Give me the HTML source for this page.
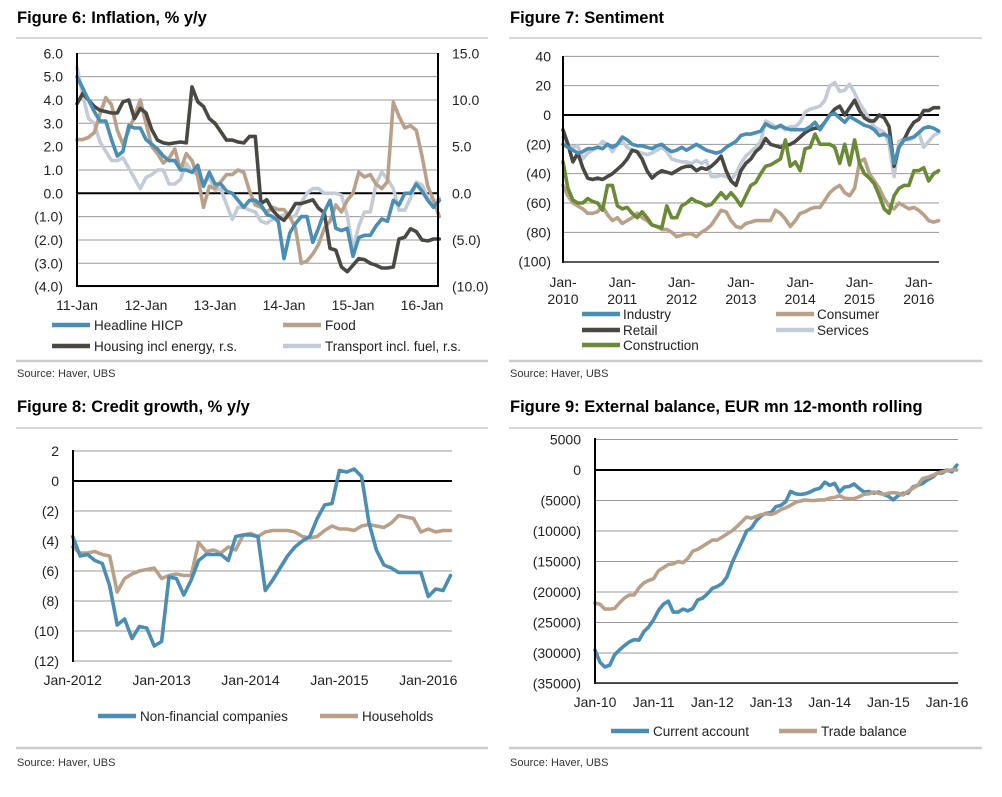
<!DOCTYPE html>
<html><head><meta charset="utf-8"><style>
html,body{margin:0;padding:0;background:#fff;}
svg{display:block;font-family:"Liberation Sans",sans-serif;}
.t{font-weight:bold;font-size:16.5px;fill:#000;}
.tk{font-size:14px;fill:#222;}
.lg{font-size:13.5px;fill:#222;}
.src{font-size:11px;fill:#333;}
</style></head><body>
<svg id="root" width="1002" height="797" viewBox="0 0 1002 797"></svg>
<script>
// ---------- Figure 6 data (monthly from Jan-2011) ----------
const f6Headline=[5.0,4.5,4.0,3.5,3.1,3.1,2.3,1.6,1.8,2.9,2.8,2.8, 2.3,2.1,1.9,1.6,1.4,1.4,1.0,1.0,0.9,1.2,0.3,0.9, 0.4,0.4,0.1,0.0,-0.3,-0.6,-0.3,-0.3,-0.5,-0.9,-1.0,-1.2, -2.8,-1.7,-1.3,-1.0,-1.0,-2.1,-1.5,-0.8,-0.3,-1.5,-1.6,-1.5, -2.7,-1.9,-1.8,-1.8,-1.4,-1.1,-1.2,-0.3,-0.5,0.0,0.0,0.4, 0.1,-0.3,-0.6,-0.3];
const f6Food=[2.3,2.3,2.4,2.6,3.4,4.1,3.8,2.7,2.1,2.7,3.3,4.0, 3.0,2.0,1.7,1.3,1.5,1.9,1.0,1.7,1.4,0.7,-0.6,0.3, 0.2,0.5,0.8,0.8,1.0,0.9,0.1,-0.5,-0.6,-0.8,-0.6,-0.7, -0.7,-1.0,-1.5,-3.0,-2.9,-2.6,-2.2,-1.5,-1.2,-0.5,-0.8,-0.3, 0.0,0.9,0.7,0.8,0.4,0.2,0.5,3.9,3.3,2.8,2.9,2.7, 1.6,0.3,-0.3,-1.0];
const f6Housing=[9.6,10.7,10.0,9.3,8.9,8.75,8.6,8.6,9.8,10.0,8.0,9.1, 8.6,6.8,5.7,5.4,5.3,5.4,5.5,5.4,11.4,9.8,9.3,8.0, 7.5,6.6,5.7,5.7,5.5,5.4,6.1,6.1,-1.1,-0.7,-1.8,-2.5, -2.9,-2.1,-1.1,-1.1,-0.9,-0.7,-1.6,-2.1,-5.9,-6.1,-7.9,-8.4, -7.7,-7.0,-7.1,-7.5,-7.7,-8.0,-8.0,-7.9,-4.9,-4.7,-3.8,-4.1, -5.0,-5.1,-4.9,-4.9];
const f6Transport=[13.5,10.5,8.0,7.5,5.5,4.5,3.5,3.5,3.8,2.7,1.6,0.5, 1.7,2.0,2.5,2.5,1.0,1.0,1.5,3.2,2.3,2.0,1.2,1.7, 0.3,0.5,-1.2,-2.8,-1.5,-1.5,-1.8,-2.0,-3.0,-3.2,-2.8,-2.5, -2.3,-2.6,-2.4,-1.0,0.0,0.5,0.5,0.0,0.0,0.0,-0.2,-2.4, -6.0,-3.5,-2.0,-2.0,1.0,2.3,1.5,0.5,-1.8,-1.8,-0.5,1.2, 0.9,-0.5,-1.0,-0.5];
const f6LeftTicks=[6,5,4,3,2,1,0,-1,-2,-3,-4];
const f6RightTicks=[15,10,5,0,-5,-10];
const f6XLabels=["11-Jan","12-Jan","13-Jan","14-Jan","15-Jan","16-Jan"];

// ---------- Figure 7 data (monthly from Jan-2010) ----------
const f7Industry=[-20,-22,-24,-26,-25,-23,-23,-22,-23,-20,-22,-20, -15,-17,-20,-21,-21,-22,-23,-21,-20,-23,-25,-24, -22,-24,-22,-20,-22,-24,-25,-26,-25,-22,-20,-18, -14,-13,-13,-12,-11,-6,-8,-9,-7,-9,-10,-10, -10,-10,-8,-5,-10,-5,0,1,-2,-5,-1,-3, -5,-7,-8,-10,-14,-13,-15,-33,-22,-17,-16,-15, -12,-9,-8,-9,-11];
const f7Consumer=[-48,-55,-60,-62,-64,-67,-67,-66,-62,-68,-72,-70, -74,-72,-70,-67,-70,-72,-75,-76,-78,-78,-80,-83, -82,-81,-81,-83,-80,-78,-75,-70,-65,-66,-72,-76, -77,-74,-73,-72,-72,-72,-72,-65,-67,-71,-76,-72, -67,-66,-64,-63,-63,-58,-53,-50,-48,-53,-55,-50, -32,-30,-40,-45,-50,-57,-62,-64,-60,-62,-64,-63, -65,-68,-72,-73,-72];
const f7Retail=[-10,-20,-32,-26,-36,-43,-44,-43,-44,-42,-40,-37, -34,-30,-24,-25,-30,-38,-43,-40,-38,-39,-40,-38, -36,-35,-35,-38,-36,-37,-35,-32,-28,-38,-45,-48, -38,-33,-30,-25,-22,-16,-20,-21,-22,-21,-20,-18, -15,-12,-10,-9,-9,-5,0,4,6,0,5,10, 3,-2,-4,-4,0,-2,-8,-35,-22,-17,-10,-5, -3,3,3,5,5];
const f7Services=[-15,-20,-22,-21,-30,-26,-24,-22,-18,-20,-25,-20, -18,-22,-24,-25,-26,-27,-26,-24,-22,-25,-30,-31, -32,-32,-33,-31,-33,-31,-42,-42,-41,-42,-44,-40, -33,-28,-25,-22,-18,-4,-6,-8,-8,-10,-8,-8, -5,2,4,5,6,10,20,22,16,17,21,15, 8,3,-3,-8,-10,-12,-20,-42,-18,-16,-17,-15, -12,-22,-18,-14,-12];
const f7Construction=[-32,-50,-58,-60,-60,-57,-59,-60,-65,-48,-48,-62, -64,-63,-67,-70,-66,-70,-75,-76,-77,-62,-70,-70, -62,-60,-57,-59,-60,-62,-61,-57,-53,-57,-53,-57, -62,-55,-48,-46,-40,-35,-34,-32,-30,-17,-35,-32, -38,-23,-22,-13,-20,-20,-20,-22,-33,-20,-34,-17, -33,-40,-43,-47,-55,-64,-67,-55,-50,-48,-48,-38, -38,-36,-45,-40,-38];
const f7Ticks=[40,20,0,-20,-40,-60,-80,-100];
const f7XLabels=["2010","2011","2012","2013","2014","2015","2016"];

// ---------- Figure 8 data (monthly from Jan-2012) ----------
const f8Nfc=[-3.7,-5.0,-4.9,-5.3,-5.5,-7.0,-9.6,-9.2,-10.5,-9.7,-9.8,-11.0, -10.7,-6.4,-6.5,-7.6,-6.6,-5.3,-4.9,-4.9,-4.9,-5.3,-3.7,-3.6, -3.6,-3.7,-7.3,-6.6,-5.8,-5.0,-4.4,-4.0,-3.7,-2.5,-1.6,-1.5, 0.7,0.6,0.8,0.3,-2.8,-4.6,-5.6,-5.8,-6.1,-6.1,-6.1,-6.1, -7.7,-7.2,-7.3,-6.3];
const f8Households=[-4.4,-4.8,-4.8,-4.7,-4.9,-5.0,-7.4,-6.5,-6.2,-6.0,-5.9,-5.8, -6.5,-6.3,-6.2,-6.3,-6.3,-4.1,-4.7,-4.6,-4.8,-4.4,-4.6,-3.6, -3.5,-3.7,-3.4,-3.3,-3.3,-3.3,-3.4,-3.7,-3.8,-3.7,-3.3,-3.0, -3.2,-3.2,-3.3,-3.0,-2.9,-3.0,-3.1,-2.8,-2.3,-2.4,-2.5,-3.4, -3.2,-3.4,-3.3,-3.3];
const f8Ticks=[2,0,-2,-4,-6,-8,-10,-12];
const f8XLabels=["Jan-2012","Jan-2013","Jan-2014","Jan-2015","Jan-2016"];

// ---------- Figure 9 data (thousands EUR mn, monthly from Jan-2010) ----------
const f9Current=[-29.5,-31.5,-32.3,-32,-30.3,-29.5,-28.8,-28.2,-27.8,-27.9,-26.5,-25.7, -24.5,-23,-22,-21.5,-23.3,-23.3,-22.8,-23.1,-22.7,-21.3,-21,-20.3, -19.4,-19.1,-18.6,-17.5,-15.3,-13.5,-11.8,-10,-9.5,-8.3,-7.5,-7.1, -7.0,-6.0,-5.8,-5.2,-3.5,-3.9,-4.0,-3.9,-3.6,-3.2,-3.0,-2.0, -2.5,-2.2,-3.6,-2.8,-2.7,-2.3,-3.0,-3.6,-3.5,-3.8,-3.6,-4.0, -4.3,-4.9,-4.2,-3.8,-3.8,-2.8,-2.5,-2.2,-1.6,-1.2,-0.5,-0.5, 0,-0.3,0.8];
const f9Trade=[-21.8,-22,-22.8,-22.8,-22.7,-21.8,-21,-20.5,-20.5,-19.3,-18.5,-18.1, -17.8,-16.5,-16,-15.5,-15.4,-15,-15.2,-14.5,-13.3,-13,-12.5,-12, -11.5,-11.5,-11,-10.5,-10,-9.3,-8.5,-7.7,-7.9,-7.6,-7.3,-7.2, -7.3,-7.0,-6.5,-6.2,-5.8,-5.3,-5.1,-4.9,-5.0,-5.0,-4.9,-4.9, -4.6,-4.5,-4.2,-4.6,-4.7,-4.7,-4.4,-4.0,-3.9,-3.6,-3.8,-4.0, -3.8,-3.7,-3.8,-4.1,-3.5,-3.0,-2.5,-1.4,-1.2,-0.9,-0.5,-0.3, -0.1,0,0];
const f9Ticks=[5000,0,-5000,-10000,-15000,-20000,-25000,-30000,-35000];
const f9XLabels=["Jan-10","Jan-11","Jan-12","Jan-13","Jan-14","Jan-15","Jan-16"];

const BLUE="#4b8db3",TAN="#b9a189",DARK="#4a4843",LIGHT="#c3ccd6",GREEN="#6a8a37";
const NS="http://www.w3.org/2000/svg";
const root=document.getElementById('root');
function mk(tag,attrs,parent){const e=document.createElementNS(NS,tag);for(const k in attrs)e.setAttribute(k,attrs[k]);(parent||root).appendChild(e);return e;}
function paren(v,d){const s=Math.abs(v).toFixed(d);return v<0?"("+s+")":s;}
function line(g,x1,y1,x2,y2,stroke,w){return mk('line',{x1:x1,y1:y1,x2:x2,y2:y2,stroke:stroke,'stroke-width':w},g);}
function text(g,x,y,s,cls,anchor){const t=mk('text',{x:x,y:y,class:cls,'text-anchor':anchor||'start'},g);t.textContent=s;return t;}
function series(g,vals,xf,yf,color){
  let d="";vals.forEach((v,i)=>{d+=(i?"L":"M")+xf(i).toFixed(1)+","+yf(v).toFixed(1);});
  return mk('path',{d:d,fill:'none',stroke:color,'stroke-width':3.6,'stroke-linejoin':'round','stroke-linecap':'round'},g);
}
function legendSwatch(g,x,y,color){return line(g,x,y,x+38,y,color,4.5);}

// ===== Figure 6 =====
(function(){
  const g=mk('g',{});
  
  
  const x=i=>77+i*69/12, yl=v=>193.3-v*23.33, yr=v=>193.3-v*9.333;
  const tt=text(g,17,23,"Figure 6: Inflation, % y/y","t");
  
  
  line(g,16,38,488,38,"#ccc",1.5);
  f6LeftTicks.forEach(v=>{
    const gl=line(g,77,yl(v),438,yl(v),v===0?"#000":"#9a9a9a",v===0?2:1);
    
    
    const t=text(g,63,yl(v)+5,paren(v,1),"tk","end");
    
    
  });
  f6RightTicks.forEach(v=>{
    const t=text(g,452,yr(v)+5,paren(v,1),"tk","start");
    
    
  });
  f6XLabels.forEach((s,k)=>{
    const t=text(g,x(k*12),310,s,"tk","middle");
    
    
  });
  const s1=series(g,f6Transport,x,yr,LIGHT);
  
  
  const s2=series(g,f6Food,x,yl,TAN);
  
  
  const s3=series(g,f6Housing,x,yr,DARK);
  
  
  const s4=series(g,f6Headline,x,yl,BLUE);
  
  
  line(g,77,53,77,287,"#000",2);
  line(g,438,53,438,287,"#000",2);
  line(g,76,286,439,286,"#000",2);
  const L=[[52,325,BLUE,"Headline HICP"],[283,325,TAN,"Food"],[52,346,DARK,"Housing incl energy, r.s."],[283,346,LIGHT,"Transport incl. fuel, r.s."]];
  L.forEach(a=>{
    const sw=legendSwatch(g,a[0],a[1],a[2]);
    
    
    const t=text(g,a[0]+42,a[1]+5,a[3],"lg");
    
    
  });
  line(g,16,361,488,361,"#ccc",2.5);
  const sr=text(g,17,377,"Source:  Haver, UBS","src");
  
  
})();

// ===== Figure 7 =====
(function(){
  const g=mk('g',{});
  
  
  const x=i=>563+i*59.3/12, y=v=>115-v*1.4667;
  const tt=text(g,510,23,"Figure 7: Sentiment","t");
  
  
  line(g,509,38,982,38,"#ccc",1.5);
  f7Ticks.forEach(v=>{
    if(v>-100){const gl=line(g,563,y(v),939,y(v),v===0?"#000":"#9a9a9a",v===0?2:1);
    
    }
    const t=text(g,551,y(v)+5,paren(v,0),"tk","end");
    
    
  });
  f7XLabels.forEach((s,k)=>{
    const t1=text(g,x(k*12),287,"Jan-","tk","middle");
    
    
    const t2=text(g,x(k*12),304,s,"tk","middle");
    
    
  });
  const a=series(g,f7Consumer,x,y,TAN);
  
  
  const b=series(g,f7Services,x,y,LIGHT);
  
  
  const c=series(g,f7Retail,x,y,DARK);
  
  
  const d=series(g,f7Industry,x,y,BLUE);
  
  
  const e=series(g,f7Construction,x,y,GREEN);
  
  
  line(g,563,56,563,263,"#000",2);
  line(g,562,262,939,262,"#222",1.5);
  const L=[[582,314,BLUE,"Industry"],[776,314,TAN,"Consumer"],[582,330,DARK,"Retail"],[776,330,LIGHT,"Services"],[582,345,GREEN,"Construction"]];
  L.forEach(a=>{
    const sw=legendSwatch(g,a[0],a[1],a[2]);
    
    
    const t=text(g,a[0]+41,a[1]+5,a[3],"lg");
    
    
  });
  line(g,509,361,982,361,"#ccc",2.5);
  const sr=text(g,510,377,"Source:  Haver, UBS","src");
  
  
})();

// ===== Figure 8 =====
(function(){
  const g=mk('g',{});
  
  
  const x=i=>72.7+i*88.9/12, y=v=>481-v*15;
  const tt=text(g,17,412,"Figure 8: Credit growth, % y/y","t");
  
  
  line(g,16,428,488,428,"#ccc",1.5);
  f8Ticks.forEach(v=>{
    const gl=line(g,73,y(v),452,y(v),v===0?"#000":"#9a9a9a",v===0?2:1);
    
    
    const t=text(g,59,y(v)+5,paren(v,0),"tk","end");
    
    
  });
  f8XLabels.forEach((s,k)=>{
    const t=text(g,x(k*12),685,s,"tk","middle");
    
    
  });
  const a=series(g,f8Households,x,y,TAN);
  
  
  const b=series(g,f8Nfc,x,y,BLUE);
  
  
  line(g,73,450,73,662,"#000",2);
  const L=[[98,716,BLUE,"Non-financial companies"],[320,716,TAN,"Households"]];
  L.forEach(a=>{
    const sw=legendSwatch(g,a[0],a[1],a[2]);
    
    
    const t=text(g,a[0]+42,a[1]+5,a[3],"lg");
    
    
  });
  line(g,16,748,488,748,"#ccc",2.5);
  const sr=text(g,17,766,"Source:  Haver, UBS","src");
  
  
})();

// ===== Figure 9 =====
(function(){
  const g=mk('g',{});
  
  
  const x=i=>595+i*58.67/12, y=v=>470-v*0.0061, yk=v=>y(v*1000);
  const tt=text(g,510,412,"Figure 9: External balance, EUR mn 12-month rolling","t");
  
  
  line(g,509,428,982,428,"#ccc",1.5);
  f9Ticks.forEach(v=>{
    const gl=line(g,595,y(v),958,y(v),v===0?"#000":"#9a9a9a",v===0?2:1);
    
    
    const t=text(g,581,y(v)+5,paren(v,0),"tk","end");
    
    
  });
  f9XLabels.forEach((s,k)=>{
    const t=text(g,x(k*12),707,s,"tk","middle");
    
    
  });
  const a=series(g,f9Current,x,yk,BLUE);
  
  
  const b=series(g,f9Trade,x,yk,TAN);
  
  
  line(g,595,438,595,684,"#000",2);
  line(g,594,683,958,683,"#222",1.5);
  const L=[[611,731,BLUE,"Current account"],[779,731,TAN,"Trade balance"]];
  L.forEach(a=>{
    const sw=legendSwatch(g,a[0],a[1],a[2]);
    
    
    const t=text(g,a[0]+42,a[1]+5,a[3],"lg");
    
    
  });
  line(g,509,748,982,748,"#ccc",2.5);
  const sr=text(g,510,766,"Source:  Haver, UBS","src");
  
  
})();
</script>
</body></html>
